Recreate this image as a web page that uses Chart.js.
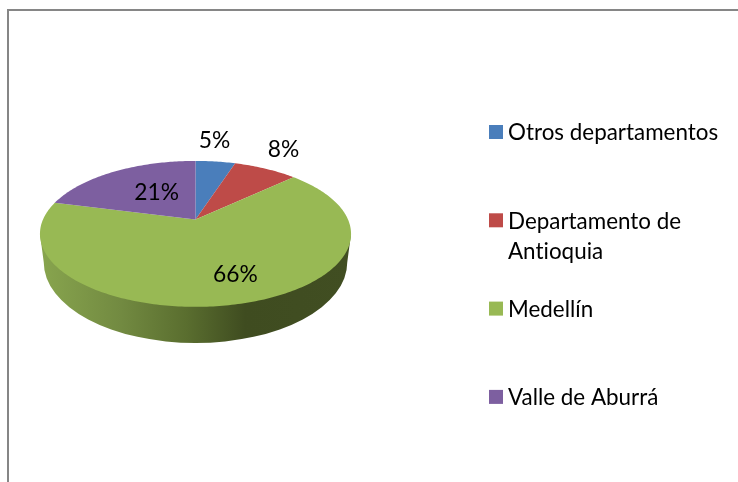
<!DOCTYPE html>
<html>
<head>
<meta charset="utf-8">
<title>Pie</title>
<script src="https://cdn.jsdelivr.net/npm/chart.js@4/dist/chart.umd.min.js"></script>
<style>
  html, body { margin: 0; padding: 0; background: #fff; overflow: hidden; }
  #frame { position: absolute; left: 7px; top: 9px; right: 0; bottom: 0; border-left: 2px solid #868686; border-top: 2px solid #868686; }
  #myChart { position: absolute; left: 0; top: 0; }
</style>
</head>
<body>
<div id="frame"></div>
<canvas id="myChart" width="738" height="482"></canvas>
<script>
const categories = ['Otros departamentos', 'Departamento de Antioquia', 'Medellín', 'Valle de Aburrá'];
const values = [5, 8, 66, 21];
const colors = ['#4a7ebb', '#be4b48', '#98b954', '#7d5fa0'];
// legend wraps the long name on two lines
const legendLines = [['Otros departamentos'], ['Departamento de', 'Antioquia'], ['Medellín'], ['Valle de Aburrá']];
// nudge of each percent label from the rim point of its slice
const labelNudge = [[-1, -21], [18, -19], [-7, -29], [42, 21]];

const font = 'Lato, sans-serif';
const squash = 0.46;
const tilt = -0.197;

// perspective view of the flat pie: near side bigger than far side
function project(el, angle, r) {
    const u = Math.cos(angle) * r;
    const v = Math.sin(angle) * r;
    const d = 1 + tilt * v;
    return {
        x: el.x + el.outerRadius * u / d,
        y: el.y + el.outerRadius * squash * v / d
    };
}

function rimPath(ctx, el, start, end) {
    const steps = Math.max(2, Math.ceil((end - start) * 60));
    for (let i = 0; i <= steps; i++) {
        const p = project(el, start + (end - start) * i / steps, 1);
        ctx.lineTo(p.x, p.y);
    }
}

const pie3d = {
    id: 'pie3d',
    beforeDatasetDraw(chart) {
        const ctx = chart.ctx;
        const arcs = chart.getDatasetMeta(0).data;
        const el = arcs[0];
        const wide = el.outerRadius * 1.02;

        // side wall, only the big slice shows at the front
        const grad = ctx.createLinearGradient(el.x - wide, 0, el.x + wide, 0);
        grad.addColorStop(0, '#88a54e');
        grad.addColorStop(0.26, '#728a41');
        grad.addColorStop(0.47, '#5a6e2f');
        grad.addColorStop(0.66, '#3f4c20');
        grad.addColorStop(1, '#414e22');
        ctx.save();
        ctx.fillStyle = grad;
        ctx.beginPath();
        ctx.moveTo(el.x - wide, el.y + 14);
        ctx.lineTo(el.x - el.outerRadius * 0.995, el.y + 43);
        ctx.ellipse(el.x, el.y + 43, el.outerRadius * 0.995, 80.5, 0, Math.PI, 0, true);
        ctx.lineTo(el.x + wide, el.y + 14);
        ctx.closePath();
        ctx.fill();

        // top face
        arcs.forEach((arc, i) => {
            ctx.fillStyle = colors[i];
            ctx.beginPath();
            ctx.moveTo(el.x, el.y);
            rimPath(ctx, el, arc.startAngle, arc.endAngle);
            ctx.closePath();
            ctx.fill();
        });
        ctx.restore();
        return false;
    },
    afterDraw(chart) {
        const ctx = chart.ctx;
        const arcs = chart.getDatasetMeta(0).data;
        const total = values.reduce((a, b) => a + b, 0);
        ctx.save();
        ctx.letterSpacing = '0.01px'; // stops the "ti" ligature in Lato
        ctx.fillStyle = '#000';
        ctx.font = '22.8px ' + font;
        ctx.textAlign = 'center';
        ctx.textBaseline = 'middle';
        arcs.forEach((arc, i) => {
            const p = project(arc, (arc.startAngle + arc.endAngle) / 2, 1);
            ctx.fillText(Math.round(values[i] / total * 100) + '%', p.x + labelNudge[i][0], p.y + labelNudge[i][1]);
        });

        // legend
        ctx.textAlign = 'left';
        ctx.font = '22.4px ' + font;
        legendLines.forEach((lines, i) => {
            const y = 132 + i * 88.3;
            ctx.fillStyle = colors[i];
            ctx.fillRect(489, y - 7, 14, 14);
            ctx.fillStyle = '#000';
            lines.forEach((line, j) => ctx.fillText(line, 508, y + 1 + j * 30));
        });
        ctx.restore();
    }
};

new Chart(document.getElementById('myChart'), {
    type: 'pie',
    data: {
        labels: categories,
        datasets: [{ data: values, backgroundColor: colors, borderWidth: 0 }]
    },
    options: {
        responsive: false,
        animation: false,
        layout: { padding: { left: 43, right: 390, top: 67, bottom: 110 } },
        plugins: { legend: { display: false }, tooltip: { enabled: false } }
    },
    plugins: [pie3d]
});
</script>
</body>
</html>
